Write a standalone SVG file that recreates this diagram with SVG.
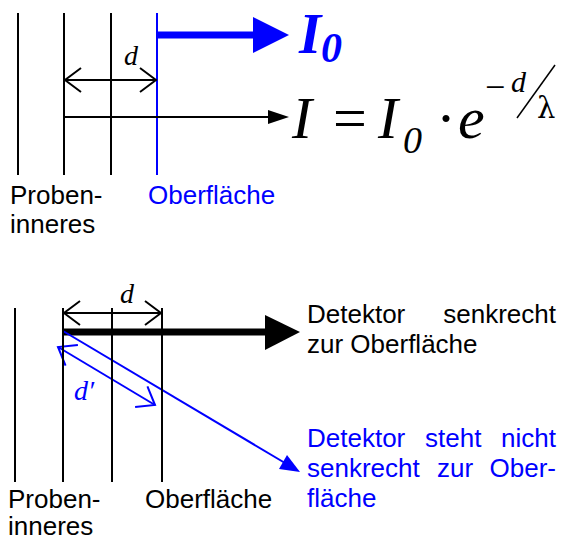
<svg xmlns="http://www.w3.org/2000/svg" width="562" height="540" viewBox="0 0 562 540">
<style>
.ln{stroke:#000;stroke-width:2;fill:none}
.bl{stroke:#0000ff;stroke-width:2;fill:none}
.sans{font-family:"Liberation Sans",Arial,sans-serif;font-size:26px}
.ser{font-family:"Liberation Serif","Times New Roman",serif}
.it{font-style:italic}
.blue{fill:#0000ff}
</style>
<defs>
<marker id="chev" markerUnits="userSpaceOnUse" markerWidth="20" markerHeight="30" refX="17" refY="13" orient="auto-start-reverse" viewBox="0 0 20 26">
<path d="M1,1 L17,13 L1,25" fill="none" stroke="#000" stroke-width="2"/>
</marker>
<marker id="chevb" markerUnits="userSpaceOnUse" markerWidth="20" markerHeight="30" refX="17" refY="13" orient="auto-start-reverse" viewBox="0 0 20 26">
<path d="M1,1 L17,13 L1,25" fill="none" stroke="#0000ff" stroke-width="2"/>
</marker>
</defs>
<g id="top-layers">
<line class="ln" x1="18" y1="13" x2="18" y2="175"/>
<line class="ln" x1="64" y1="13" x2="64" y2="175"/>
<line class="ln" x1="111" y1="13" x2="111" y2="175"/>
<line class="bl" x1="157" y1="13" x2="157" y2="175"/>
</g>
<g id="connectors">
<line x1="157" y1="35" x2="256" y2="35" stroke="#0000ff" stroke-width="7"/>
<polygon points="253,17 289,35 253,53" fill="#0000ff"/>
<line class="ln" x1="65" y1="80" x2="156" y2="80" marker-start="url(#chev)" marker-end="url(#chev)"/>
<line class="ln" x1="64" y1="117" x2="270" y2="117"/>
<polygon points="268,110 289,117 268,124" fill="#000"/>
<line class="ln" x1="64" y1="313" x2="161" y2="313" marker-start="url(#chev)" marker-end="url(#chev)"/>
<line x1="63" y1="332" x2="268" y2="332" stroke="#000" stroke-width="7"/>
<polygon points="265,315 300,332 265,350" fill="#000"/>
<line class="bl" x1="63" y1="331" x2="285" y2="463"/>
<polygon points="300,472 279,469 287,455" fill="#0000ff"/>
<line class="bl" x1="58" y1="347" x2="155" y2="405" marker-start="url(#chevb)" marker-end="url(#chevb)"/>
</g>
<g id="bottom-layers">
<line class="ln" x1="15" y1="308" x2="15" y2="482"/>
<line class="ln" x1="63" y1="308" x2="63" y2="482"/>
<line class="ln" x1="112" y1="308" x2="112" y2="482"/>
<line class="ln" x1="162" y1="308" x2="162" y2="482"/>
</g>
<g id="labels-top">
<text class="ser it" x="124" y="65" font-size="28">d</text>
<text class="ser it blue" font-weight="bold" x="299" y="53" font-size="57">I</text>
<text class="ser it blue" font-weight="bold" x="321" y="62" font-size="42">0</text>
<text class="sans" x="10" y="204">Proben-</text>
<text class="sans" x="10" y="233">inneres</text>
<text class="sans blue" x="148" y="204">Oberfläche</text>
</g>
<g id="formula">
<text class="ser it" x="292" y="138" font-size="60">I</text>
<text class="ser" x="333" y="138" font-size="60">=</text>
<text class="ser it" x="378" y="138" font-size="60">I</text>
<text class="ser it" x="403" y="153" font-size="38">0</text>
<text class="ser" x="436" y="138" font-size="60">·</text>
<text class="ser it" x="458" y="138" font-size="60">e</text>
<text class="ser" x="485" y="99" font-size="36">−</text>
<text class="ser it" x="511" y="92" font-size="30">d</text>
<line x1="517" y1="118" x2="555" y2="65" stroke="#000" stroke-width="1.5"/>
<text x="537" y="118" font-size="29" font-family="'DejaVu Serif',serif">λ</text>
</g>
<g id="labels-bottom">
<text class="ser it" x="120" y="303" font-size="28">d</text>
<text class="ser it blue" x="74" y="400" font-size="28">d′</text>
<text class="sans" x="307" y="323">Detektor</text>
<text class="sans" x="556" y="323" text-anchor="end">senkrecht</text>
<text class="sans" x="307" y="353">zur Oberfläche</text>
<text class="sans blue" x="307" y="447">Detektor</text>
<text class="sans blue" x="425" y="447">steht</text>
<text class="sans blue" x="556" y="447" text-anchor="end">nicht</text>
<text class="sans blue" x="307" y="477">senkrecht</text>
<text class="sans blue" x="437" y="477">zur</text>
<text class="sans blue" x="556" y="477" text-anchor="end">Ober-</text>
<text class="sans blue" x="307" y="507">fläche</text>
<text class="sans" x="8" y="508">Proben-</text>
<text class="sans" x="8" y="535">inneres</text>
<text class="sans" x="145" y="508">Oberfläche</text>
</g>
</svg>
